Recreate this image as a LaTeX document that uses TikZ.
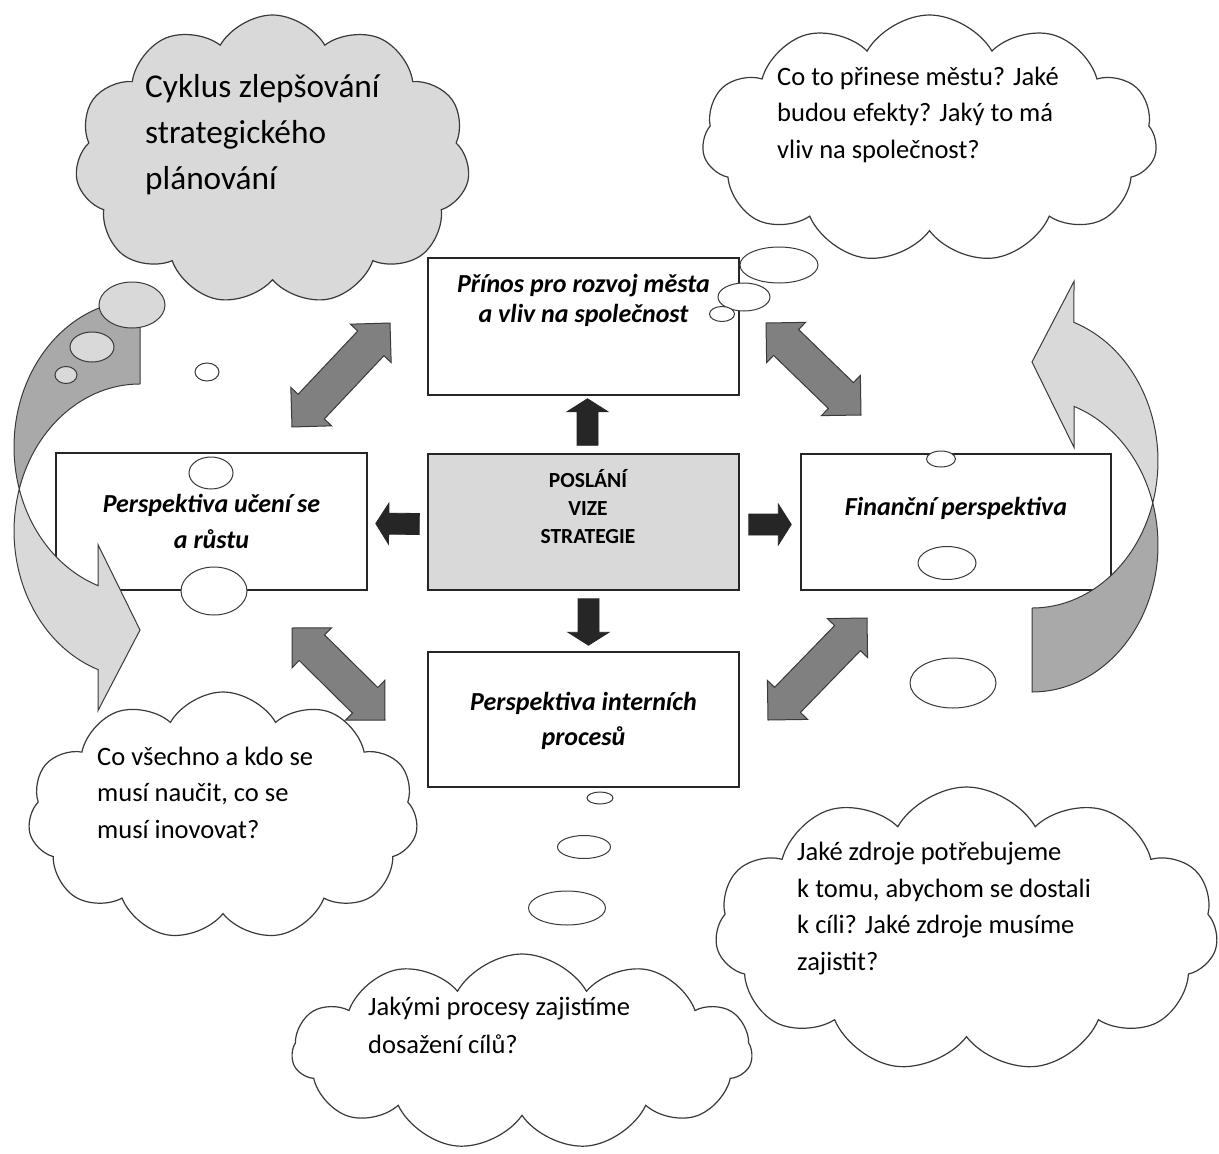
\documentclass[tikz,border=0pt]{standalone}
\usepackage{fontspec}
\setmainfont{Carlito}
\usetikzlibrary{calc,shapes.symbols}

\definecolor{paleGray}{HTML}{D9D9D9}
\definecolor{bandGray}{HTML}{A9A9A9}
\definecolor{arrowGray}{HTML}{808080}
\definecolor{darkFill}{HTML}{262626}
\definecolor{lineGray}{HTML}{3A3A3A}

\tikzset{
  box/.style={draw=darkFill, line width=1.5pt, fill=white, minimum width=311, minimum height=137, inner sep=0},
  boxtext/.style={anchor=base, align=center, inner sep=0, font=\bfseries\itshape\fontsize{26}{36}\selectfont},
  cloudy/.style={cloud, cloud puffs=11, cloud puff arc=120, cloud ignores aspect, draw=lineGray, line width=1.2pt, fill=white, inner sep=0},
  asktext/.style={anchor=base west, align=left, inner sep=0, font=\fontsize{26.5}{36.5}\selectfont},
  bubble/.style={draw=lineGray, line width=1pt, fill=white},
  blockarrow/.style={draw=darkFill, line width=.8pt, fill=darkFill},
  dblarrow/.style={draw=lineGray, line width=1pt, fill=arrowGray},
  backband/.style={draw=lineGray, line width=1pt, fill=bandGray},
  frontband/.style={draw=lineGray, line width=1pt, fill=paleGray}
}

% arrow with one head, from tail #1 to tip #2
\newcommand{\blockarr}[2]{%
  \path ($(#2)!13pt!(#1)$) coordinate (hb);
  \draw[blockarrow] ($(#1)!10.5pt!90:(#2)$) -- ($(hb)!10.5pt!90:(#2)$) -- ($(hb)!20.5pt!90:(#2)$)
    -- (#2) -- ($(hb)!20.5pt!-90:(#2)$) -- ($(hb)!10.5pt!-90:(#2)$) -- ($(#1)!10.5pt!-90:(#2)$) -- cycle;
}
% arrow with two heads
\newcommand{\dblarr}[2]{%
  \path ($(#1)!28pt!(#2)$) coordinate (h1) ($(#2)!28pt!(#1)$) coordinate (h2);
  \draw[dblarrow] (#1) -- ($(h1)!28pt!90:(#2)$) -- ($(h1)!18pt!90:(#2)$)
    -- ($(h2)!18pt!-90:(#1)$) -- ($(h2)!28pt!-90:(#1)$) -- (#2)
    -- ($(h2)!28pt!90:(#1)$) -- ($(h2)!18pt!90:(#1)$)
    -- ($(h1)!18pt!-90:(#2)$) -- ($(h1)!28pt!-90:(#2)$) -- cycle;
}
% curved arrow on the right side
\newcommand{\curvedarrow}{%
  \draw[backband] (1032,608) -- (1032,692) arc[start angle=90, end angle=-16.6, x radius=126, y radius=147]
    arc[start angle=16.6, end angle=90, x radius=126, y radius=147] -- cycle;
  \draw[frontband] (1152.7,503) arc[start angle=16.6, end angle=-70.53, x radius=126, y radius=147]
    -- (1074,281.4) -- (1032,362) -- (1074,447.4) -- (1074,406.4)
    arc[start angle=-70.53, end angle=-16.6, x radius=126, y radius=147] -- cycle;
}

\begin{document}
\begin{tikzpicture}[x=1pt, y=-1pt]
      \path[fill=white, use as bounding box] (0,0) rectangle (1219,1154);
      % clouds (texts sit on the baseline of their last line)
      \node (cyklus) at (272.5,160) [cloudy, fill=paleGray, minimum width=395, minimum height=290] {};
      \node (cyklustxt) at (145,189) [anchor=base west, align=left, inner sep=0, font=\fontsize{33.3}{46}\selectfont] {Cyklus zlepšování\\strategického\\plánování};
      \node (prinosq) at (929.5,139) [cloudy, minimum width=455, minimum height=248] {};
      \node (prinosqtxt) at (777,158) [asktext] {Co to přinese městu? Jaké\\budou efekty? Jaký to má\\vliv na společnost?};
      \node (uceniq) at (223,816) [cloudy, minimum width=390, minimum height=248] {};
      \node (uceniqtxt) at (97,838) [asktext] {Co všechno a kdo se\\musí naučit, co se\\musí inovovat?};
      \node (financniq) at (966.5,929.5) [cloudy, minimum width=503, minimum height=285] {};
      \node (financniqtxt) at (797,970) [asktext] {Jaké zdroje potřebujeme\\k tomu, abychom se dostali\\k cíli? Jaké zdroje musíme\\zajistit?};
      \node (procesyq) at (522,1052) [cloudy, minimum width=460, minimum height=196] {};
      \node (procesyqtxt) at (368,1053) [asktext, font=\fontsize{26.5}{38}\selectfont] {Jakými procesy zajistíme\\dosažení cílů?};
      % boxes
      \node (prinos) at (583.5,326.5) [box] {};
      \node (prinostxt) at (583.5,322) [boxtext, font=\bfseries\itshape\fontsize{26}{30}\selectfont] {Přínos pro rozvoj města\\a vliv na společnost};
      \node (vize) at (583.5,522) [box, fill=paleGray, minimum height=136] {};
      \node (vizetxt) at (588,543) [anchor=base, align=center, inner sep=0, font=\bfseries\fontsize{21.5}{28}\selectfont] {POSLÁNÍ\\VIZE\\STRATEGIE};
      \node (uceni) at (211.5,521.5) [box] {};
      \node (ucenitxt) at (211.5,548) [boxtext] {Perspektiva učení se\\a růstu};
      \node (financni) at (956,522) [box, minimum width=310, minimum height=136] {};
      \node (financnitxt) at (956,515) [boxtext] {Finanční perspektiva};
      \node (procesy) at (583.5,719.5) [box, minimum height=135] {};
      \node (procesytxt) at (583.5,745) [boxtext, font=\bfseries\itshape\fontsize{26}{35}\selectfont] {Perspektiva interních\\procesů};
      % arrows from the centre
      \coordinate (upA) at ($(vize.north)+(4,-8)$);
      \coordinate (upB) at ($(prinos.south)+(4,3)$);
      \coordinate (downA) at ($(vize.south)+(5,8)$);
      \coordinate (downB) at ($(procesy.north)+(5,-6)$);
      \coordinate (rightA) at ($(vize.east)+(9,2.5)$);
      \coordinate (rightB) at ($(financni.west)+(-9,2.5)$);
      \coordinate (leftA) at ($(vize.west)+(-8,2)$);
      \coordinate (leftB) at ($(uceni.east)+(8,2)$);
      \blockarr{upA}{upB}
      \blockarr{downA}{downB}
      \blockarr{rightA}{rightB}
      \blockarr{leftA}{leftB}
      % arrows between the perspectives
      \coordinate (nw1) at (292,427);
      \coordinate (nw2) at (390,323);
      \coordinate (ne1) at (766,323);
      \coordinate (ne2) at (861,415);
      \coordinate (sw1) at (292,628);
      \coordinate (sw2) at (385,720);
      \coordinate (se1) at (768,720);
      \coordinate (se2) at (867,618);
      \dblarr{nw1}{nw2}
      \dblarr{ne1}{ne2}
      \dblarr{sw1}{sw2}
      \dblarr{se1}{se2}
      % cycle arrows
      \curvedarrow
      \begin{scope}[rotate around={180:(586,496)}]
        \curvedarrow
      \end{scope}
      % thought bubbles
      \draw[bubble, fill=paleGray] (132,305) ellipse [x radius=33, y radius=23];
      \draw[bubble, fill=paleGray] (92,347) ellipse [x radius=22, y radius=15];
      \draw[bubble, fill=paleGray] (66,375) ellipse [x radius=11, y radius=8.5];
      \draw[bubble] (207,372) ellipse [x radius=12, y radius=9];
      \draw[bubble] (779,265) ellipse [x radius=39, y radius=18];
      \draw[bubble] (744,297) ellipse [x radius=26, y radius=14];
      \draw[bubble] (722,314) ellipse [x radius=12.5, y radius=7.5];
      \draw[bubble] (211,473) ellipse [x radius=22, y radius=16];
      \draw[bubble] (214,591) ellipse [x radius=33, y radius=24];
      \draw[bubble] (941,459) ellipse [x radius=14.5, y radius=8];
      \draw[bubble] (947,563) ellipse [x radius=29, y radius=16.5];
      \draw[bubble] (953,683) ellipse [x radius=43, y radius=25];
      \draw[bubble] (600,798) ellipse [x radius=13, y radius=6];
      \draw[bubble] (584,847) ellipse [x radius=26.5, y radius=11.5];
      \draw[bubble] (567,908) ellipse [x radius=38.5, y radius=17];
\end{tikzpicture}
\end{document}
